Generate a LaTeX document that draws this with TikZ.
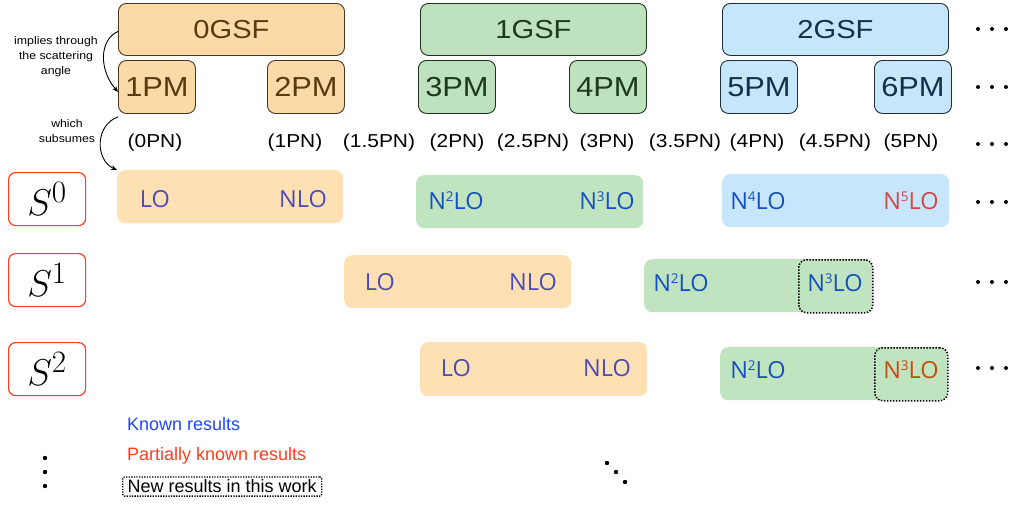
\documentclass[tikz,border=0pt]{standalone}
\usepackage{fontspec}
\usepackage{graphicx}
\setmainfont{Liberation Sans}
\newfontfamily\wide[FakeStretch=1.12]{Liberation Sans}
\newfontfamily\osans{Open Sans}
\usetikzlibrary{arrows.meta}
\newcommand{\nsup}[1]{\raisebox{7.6pt}{\fontsize{13.5}{14}\selectfont #1}}
\newcommand{\bigS}[1]{\scalebox{1.5}{\Huge$S^{#1}$}}
\definecolor{otop}{HTML}{FCDAA8}
\definecolor{obd}{HTML}{4A3520}
\definecolor{otx}{HTML}{5A3A10}
\definecolor{gtop}{HTML}{BEE2BE}
\definecolor{gbd}{HTML}{1E331E}
\definecolor{gtx}{HTML}{1B3B1B}
\definecolor{btop}{HTML}{C6E6FA}
\definecolor{bbd}{HTML}{1E2E3E}
\definecolor{btx}{HTML}{14304A}
\definecolor{orow}{HTML}{FFE0B3}
\definecolor{grow}{HTML}{C0E3C0}
\definecolor{brow}{HTML}{C7E6FB}
\definecolor{purp}{HTML}{4B4BB8}
\definecolor{kblue}{HTML}{1450C0}
\definecolor{kred}{HTML}{D04848}
\definecolor{korange}{HTML}{C84A0C}
\definecolor{legblue}{HTML}{1E46FF}
\definecolor{legred}{HTML}{FF3D1F}
\definecolor{sred}{HTML}{FF3D1F}
\tikzset{
  topbox/.style={rounded corners=8pt, line width=0.9pt, anchor=north west, inner sep=0pt},
  gsfbox/.style={topbox, minimum width=226pt, minimum height=52pt, font=\wide\fontsize{26}{28}\selectfont},
  pmbox/.style={topbox, minimum width=77pt, minimum height=53pt, font=\wide\fontsize{27.5}{29}\selectfont},
  rowbox/.style={rounded corners=8pt, anchor=north west, inner sep=0pt, draw=none, minimum height=53pt},
  newbox/.style={rounded corners=8pt, anchor=north west, inner sep=0pt, draw=black, line width=1.5pt,
     dash pattern=on 1.5pt off 1.5pt, minimum height=53pt},
  lotext/.style={font=\osans\fontsize{23.5}{25}\selectfont, inner sep=0pt},
  pntext/.style={font=\wide\fontsize{18.7}{20}\selectfont, inner sep=0pt},
  sbox/.style={rounded corners=7pt, draw=sred, line width=1.2pt, anchor=north west, inner sep=0pt,
     minimum width=77pt, minimum height=53pt},
  smalllab/.style={font=\wide\fontsize{11}{15}\selectfont, align=center, inner sep=0pt},
  legtext/.style={font=\fontsize{18}{20}\selectfont, anchor=west, inner sep=0pt},
  arr/.style={-{Stealth[length=6pt,width=5pt]}, line width=0.9pt},
}
\begin{document}
\begin{tikzpicture}[x=1pt,y=-1pt]
\useasboundingbox (0,0) rectangle (1017,504);
% top boxes
\node[gsfbox, draw=obd, fill=otop, text=otx] (g0) at (118,3) {0GSF};
\node[gsfbox, draw=gbd, fill=gtop, text=gtx] (g1) at (420,3) {1GSF};
\node[gsfbox, draw=bbd, fill=btop, text=btx] (g2) at (722,3) {2GSF};
\node[pmbox, draw=obd, fill=otop, text=otx] (pm1) at (118,60) {1PM};
\node[pmbox, draw=obd, fill=otop, text=otx] (pm2) at (267,60) {2PM};
\node[pmbox, draw=gbd, fill=gtop, text=gtx] (pm3) at (418,60) {3PM};
\node[pmbox, draw=gbd, fill=gtop, text=gtx] (pm4) at (569,60) {4PM};
\node[pmbox, draw=bbd, fill=btop, text=btx] (pm5) at (720,60) {5PM};
\node[pmbox, draw=bbd, fill=btop, text=btx] (pm6) at (874,60) {6PM};
% PN labels
\node[pntext] (pn0) at (155,143) {(0PN)};
\node[pntext] (pn1) at (295,143) {(1PN)};
\node[pntext] (pn15) at (379,143) {(1.5PN)};
\node[pntext] (pn2) at (457,143) {(2PN)};
\node[pntext] (pn25) at (533,143) {(2.5PN)};
\node[pntext] (pn3) at (607,143) {(3PN)};
\node[pntext] (pn35) at (685,143) {(3.5PN)};
\node[pntext] (pn4) at (757,143) {(4PN)};
\node[pntext] (pn45) at (835,143) {(4.5PN)};
\node[pntext] (pn5) at (911,143) {(5PN)};
% S labels
\node[sbox] (s0) at (8,172) {\bigS{0}};
\node[sbox] (s1) at (8,253) {\bigS{1}};
\node[sbox] (s2) at (8,342) {\bigS{2}};
% row S0
\node[rowbox, fill=orow, minimum width=226pt] (r00) at (117,170) {};
\node[rowbox, fill=grow, minimum width=227pt] (r01) at (416,175) {};
\node[rowbox, fill=brow, minimum width=227pt] (r02) at (722,174) {};
\node[lotext, text=purp] (t00) at (155,199) {LO};
\node[lotext, text=purp] (t01) at (303,199) {NLO};
\node[lotext, text=kblue] (t02) at (456,201) {N\nsup{2}LO};
\node[lotext, text=kblue] (t03) at (607,201) {N\nsup{3}LO};
\node[lotext, text=kblue] (t04) at (758,201) {N\nsup{4}LO};
\node[lotext, text=kred] (t05) at (911,201) {N\nsup{5}LO};
% row S1
\node[rowbox, fill=orow, minimum width=227pt] (r10) at (344,255) {};
\node[rowbox, fill=grow, minimum width=228pt] (r11) at (644,259) {};
\node[lotext, text=purp] (t10) at (380,282) {LO};
\node[lotext, text=purp] (t11) at (533,282) {NLO};
\node[lotext, text=kblue] (t12) at (681,283) {N\nsup{2}LO};
\node[newbox, minimum width=74pt] (n1) at (798,259) {};
\node[lotext, text=kblue] (t13) at (835,283) {N\nsup{3}LO};
% row S2
\node[rowbox, fill=orow, minimum width=227pt, minimum height=54pt] (r20) at (420,342) {};
\node[rowbox, fill=grow, minimum width=227pt] (r21) at (720,347) {};
\node[lotext, text=purp] (t20) at (456,368) {LO};
\node[lotext, text=purp] (t21) at (607,368) {NLO};
\node[lotext, text=kblue] (t22) at (758,370) {N\nsup{2}LO};
\node[newbox, minimum width=73pt] (n2) at (874,347) {};
\node[lotext, text=korange] (t23) at (911,370) {N\nsup{3}LO};
% arrows
\node[smalllab] (lab1) at (56,57) {implies through\\the scattering\\angle};
\node[smalllab] (lab2) at (67,131) {which\\subsumes};
\coordinate (a1s) at ([yshift=-2pt]g0.west);
\coordinate (a1e) at ([yshift=-5pt]pm1.west);
\draw[arr] (a1s) .. controls (99,40) and (99,70) .. (a1e);
\coordinate (a2s) at ([yshift=-3pt]pm1.south west);
\draw[arr] (a2s) .. controls (95,125) and (95,160) .. (r00.north west);
% ellipsis dots
\foreach \yy in {29,87,144,202,282,368}{
  \foreach \xx in {978,992,1006}{ \fill (\xx,\yy) circle (2pt); }
}
\foreach \yy in {458,472,486}{ \fill (45,\yy) circle (2.2pt); }
\fill (607,463) circle (2.2pt);
\fill (616,472) circle (2.2pt);
\fill (625,482) circle (2.2pt);
% legend
\node[legtext, text=legblue] (l1) at (127,424) {Known results};
\node[legtext, text=legred] (l2) at (127,456) {Partially known results};
\node[legtext, draw=black, line width=1.3pt, dash pattern=on 1.3pt off 1.3pt, rounded corners=2pt,
   inner xsep=5pt, inner ysep=3pt] (l3) at (122,486.5) {New results in this work};
\end{tikzpicture}
\end{document}
